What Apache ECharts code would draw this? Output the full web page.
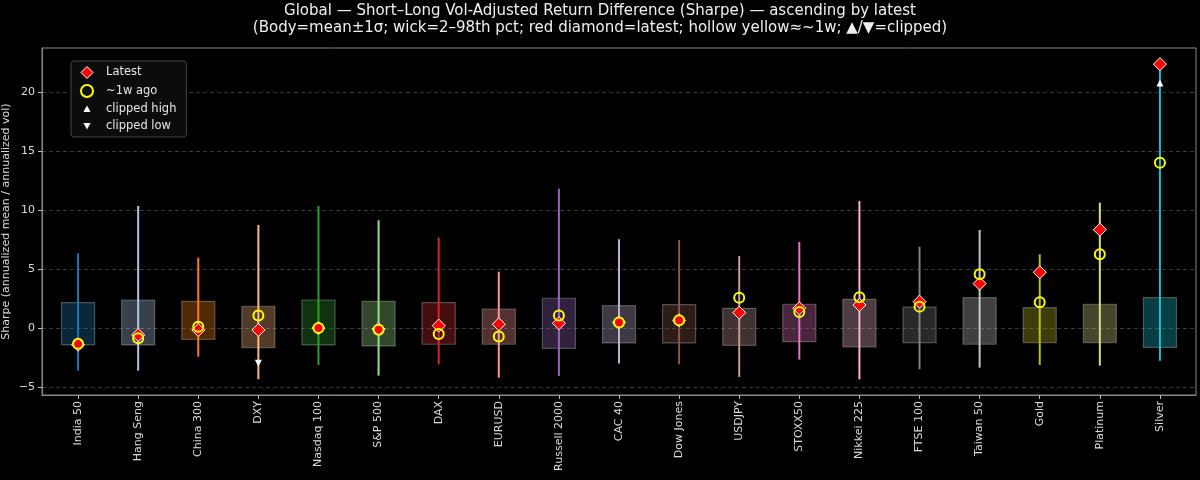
<!DOCTYPE html>
<html>
<head>
<meta charset="utf-8">
<script src="https://cdn.jsdelivr.net/npm/echarts@6/dist/echarts.min.js"></script>
<style>
html,body{margin:0;padding:0;background:#000;}
#chart{width:1200px;height:480px;}
</style>
</head>
<body>
<div id="chart"></div>
<script>
const categories = ['India 50','Hang Seng','China 300','DXY','Nasdaq 100','S&P 500','DAX','EURUSD','Russell 2000','CAC 40','Dow Jones','USDJPY','STOXX50','Nikkei 225','FTSE 100','Taiwan 50','Gold','Platinum','Silver'];
const bodyLow  = [-1.40,-1.40,-0.92,-1.62,-1.40,-1.48,-1.34,-1.34,-1.68,-1.23,-1.23,-1.43,-1.12,-1.57,-1.20,-1.34,-1.20,-1.20,-1.60];
const bodyHigh = [2.19,2.41,2.30,1.88,2.41,2.30,2.19,1.65,2.56,1.93,2.02,1.71,2.05,2.47,1.80,2.61,1.76,2.05,2.61];
const wickLow  = [-3.58,-3.58,-2.39,-4.30,-3.10,-4.00,-3.06,-4.17,-4.02,-2.98,-3.04,-4.11,-2.64,-4.31,-3.46,-3.32,-3.09,-3.15,-2.73];
const wickHigh = [6.37,10.38,6.00,8.77,10.38,9.17,7.70,4.81,11.85,7.56,7.50,6.14,7.33,10.80,6.93,8.35,6.29,10.66,21.9];
const latest   = [-1.38,-0.55,-0.13,-0.13,0.03,-0.05,0.24,0.35,0.44,0.52,0.69,1.34,1.71,1.99,2.27,3.80,4.76,8.37,22.4];
const weekAgo  = [-1.30,-0.83,0.15,1.09,0.03,-0.10,-0.47,-0.69,1.09,0.50,0.70,2.61,1.40,2.64,1.85,4.59,2.22,6.29,14.05];
const clipHighIdx = [18]; const clipHighVal = [20.8];
const clipLowIdx = [3];   const clipLowVal = [-2.95];
const yTicks = [-5,0,5,10,15,20];
const palette = ['#1f77b4','#aec7e8','#ff7f0e','#ffbb78','#2ca02c','#98df8a','#d62728','#ff9896','#9467bd','#c5b0d5','#8c564b','#c49c94','#e377c2','#f7b6d2','#7f7f7f','#c7c7c7','#bcbd22','#dbdb8d','#17becf'];

function hexA(h,a){const n=parseInt(h.slice(1),16);return `rgba(${(n>>16)&255},${(n>>8)&255},${n&255},${a})`;}

const FONT = 'DejaVu Sans';
const chart = echarts.init(document.getElementById('chart'));
const boxData = categories.map((c,i)=>[i,bodyLow[i],bodyHigh[i],wickLow[i],wickHigh[i]]);
const xIdx = categories.map((c,i)=>i);

chart.setOption({
  backgroundColor:'#000',
  animation:false,
  textStyle:{fontFamily:FONT},
  title:{
    text:'Global — Short–Long Vol-Adjusted Return Difference (Sharpe) — ascending by latest\n(Body=mean±1σ; wick=2–98th pct; red diamond=latest; hollow yellow≈~1w; ▲/▼=clipped)',
    left:'center', top:0, padding:[3,0,0,38],
    textStyle:{color:'#f0f0f0',fontSize:15,fontWeight:'normal',fontFamily:FONT,lineHeight:17}
  },
  legend:{
    orient:'vertical', left:71, top:61,
    backgroundColor:'#0c0c0c', borderColor:'#444', borderWidth:1, borderRadius:3,
    padding:[5,10,5,9], itemWidth:12, itemHeight:12, itemGap:5,
    textStyle:{color:'#e6e6e6',fontSize:11.5,fontFamily:FONT,padding:[0,0,0,8]},
    data:[
      {name:'Latest', itemStyle:{color:'#ff0000',borderColor:'#ffffff',borderWidth:1}},
      {name:'~1w ago', itemStyle:{color:'rgba(0,0,0,0)',borderColor:'#ffff00',borderWidth:2}},
      {name:'clipped high', icon:'path://M0,0M20,20M10,4L16,15L4,15Z', itemStyle:{color:'#ffffff'}},
      {name:'clipped low', icon:'path://M0,0M20,20M4,5L16,5L10,16Z', itemStyle:{color:'#ffffff'}}
    ]
  },
  grid:{left:42,right:4,top:48,bottom:85,show:true,borderColor:'#888',borderWidth:1,backgroundColor:'transparent',containLabel:false,outerBoundsMode:'none'},
  xAxis:{
    type:'value', min:-0.6, max:18.6,
    axisLine:{show:true,onZero:false,lineStyle:{color:'#888'}},
    axisTick:{show:true,length:4,customValues:xIdx,lineStyle:{color:'#bbb'}},
    splitLine:{show:false},
    axisLabel:{customValues:xIdx,rotate:90,color:'#dcdcdc',fontSize:11,fontFamily:FONT,margin:6,
      formatter:v=>categories[Math.round(v)]||''}
  },
  yAxis:{
    type:'value', min:-5.64, max:23.77,
    name:'Sharpe (annualized mean / annualized vol)', nameLocation:'middle', nameGap:30, nameMoveOverlap:false,
    nameTextStyle:{color:'#dcdcdc',fontSize:11,fontFamily:FONT},
    axisLine:{show:true,onZero:false,lineStyle:{color:'#888'}},
    axisTick:{show:true,length:4,customValues:yTicks,lineStyle:{color:'#bbb'}},
    axisLabel:{customValues:yTicks,color:'#dcdcdc',fontSize:11,fontFamily:FONT,margin:7,
      formatter:v=>String(v).replace('-','−')},
    splitLine:{show:true,lineStyle:{color:'rgba(255,255,255,0.28)',type:[4,3],width:0.8}}
  },
  series:[
    {
      type:'custom', name:'box', z:2,
      data:boxData,
      renderItem:function(params,api){
        const i=api.value(0);
        const col=palette[i];
        const top=api.coord([i,api.value(2)]);
        const bot=api.coord([i,api.value(1)]);
        const wt=api.coord([i,api.value(4)]);
        const wb=api.coord([i,api.value(3)]);
        const w=api.size([0.55,0])[0];
        return {type:'group',children:[
          {type:'rect',shape:{x:top[0]-w/2,y:top[1],width:w,height:bot[1]-top[1]},
           style:{fill:hexA(col,0.32),stroke:'rgba(200,200,200,0.35)',lineWidth:1.2}},
          {type:'line',shape:{x1:wt[0],y1:wt[1],x2:wb[0],y2:wb[1]},
           style:{stroke:col,lineWidth:2}}
        ]};
      }
    },
    {
      type:'scatter', name:'Latest', z:4,
      symbol:'diamond', symbolSize:13,
      itemStyle:{color:'#ff0000',borderColor:'#ffffff',borderWidth:1,opacity:1},
      data:latest.map((v,i)=>[i,v])
    },
    {
      type:'scatter', name:'~1w ago', z:5,
      symbol:'circle', symbolSize:10,
      itemStyle:{color:'rgba(0,0,0,0)',borderColor:'#ffff00',borderWidth:2,opacity:1},
      data:weekAgo.map((v,i)=>[i,v])
    },
    {
      type:'scatter', name:'clipped high', z:6,
      symbol:'triangle', symbolSize:7,
      itemStyle:{color:'#ffffff',opacity:1},
      data:clipHighIdx.map((x,k)=>[x,clipHighVal[k]])
    },
    {
      type:'scatter', name:'clipped low', z:6,
      symbol:'triangle', symbolSize:7, symbolRotate:180,
      itemStyle:{color:'#ffffff',opacity:1},
      data:clipLowIdx.map((x,k)=>[x,clipLowVal[k]])
    }
  ]
});
</script>
</body>
</html>
